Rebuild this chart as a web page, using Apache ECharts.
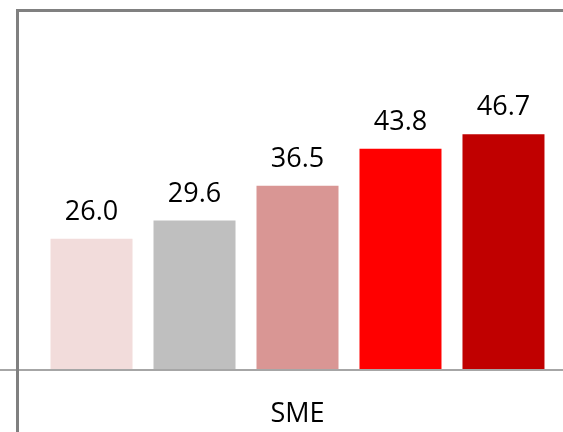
<!DOCTYPE html>
<html>
<head>
<meta charset="utf-8">
<script src="https://cdn.jsdelivr.net/npm/echarts@6/dist/echarts.min.js"></script>
<style>
  html, body { margin: 0; padding: 0; background: #fff; }
  #chart { width: 563px; height: 432px; }
</style>
</head>
<body>
<div id="chart"></div>
<script>
// data
const categories = ["SME"];
const seriesNames = ["s1", "s2", "s3", "s4", "s5"];
const seriesValues = [26.0, 29.6, 36.5, 43.8, 46.7];
const seriesColors = ["#f2dcdb", "#bfbfbf", "#d99694", "#ff0000", "#c00000"];

const chart = echarts.init(document.getElementById("chart"));

const series = seriesValues.map((v, i) => ({
  name: seriesNames[i],
  type: "bar",
  data: [v],
  barWidth: 82,
  barGap: "25.6%",
  itemStyle: { color: seriesColors[i] },
  label: {
    show: true,
    position: "top",
    distance: 13,
    formatter: (p) => p.value.toFixed(1),
    fontFamily: "Open Sans",
    fontSize: 27,
    color: "#000",
  },
}));

const option = {
  animation: false,
  grid: { left: 32, right: 0, top: 67, bottom: 62 },
  xAxis: {
    type: "category",
    data: categories,
    axisLine: { show: false },
    axisTick: { show: false },
    axisLabel: {
      margin: 31,
      fontFamily: "Open Sans",
      fontSize: 27,
      color: "#000",
    },
  },
  yAxis: {
    type: "value",
    min: 0,
    max: 60,
    show: false,
    splitLine: { show: false },
  },
  graphic: [
    // axis baseline
    {
      type: "line",
      shape: { x1: 0, y1: 370, x2: 563, y2: 370 },
      style: { stroke: "#a6a6a6", lineWidth: 2 },
      z: 10,
    },
    // frame top
    {
      type: "line",
      shape: { x1: 16, y1: 10.5, x2: 563, y2: 10.5 },
      style: { stroke: "#808080", lineWidth: 3 },
    },
    // frame left
    {
      type: "line",
      shape: { x1: 17.5, y1: 9, x2: 17.5, y2: 432 },
      style: { stroke: "#808080", lineWidth: 3 },
      z: 11,
    },
  ],
  series: series,
};

chart.setOption(option);
</script>
</body>
</html>
